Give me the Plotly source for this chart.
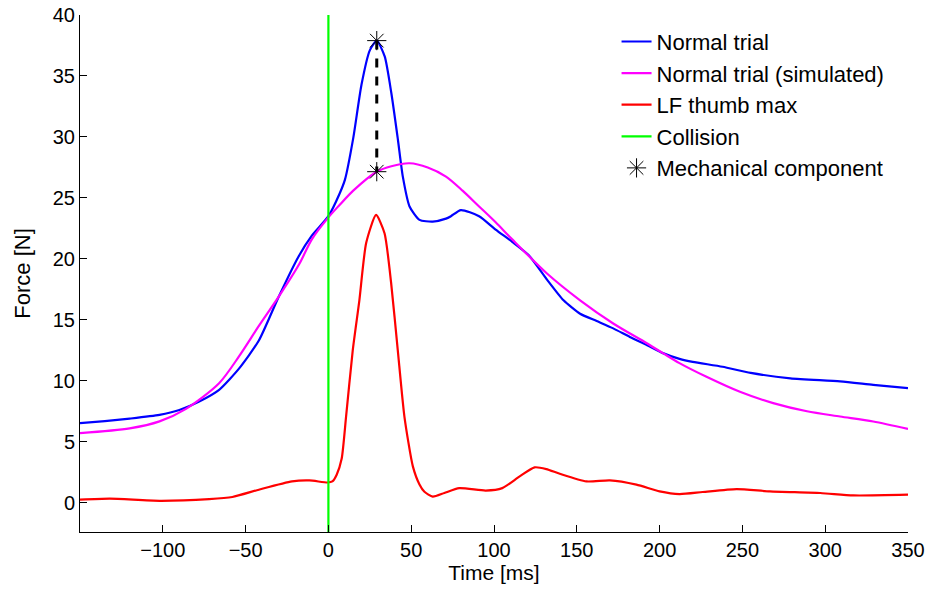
import plotly.graph_objects as go

# ---- data ----
blue_t = [-150, -135, -120, -102, -90, -78, -66, -54, -42, -30, -18, -10, 0, 6.6, 10, 15, 20, 25, 29.2,
          34, 38, 42, 45, 49, 55, 63, 71, 74, 80, 91, 101, 111, 121, 132, 142, 152, 162, 172, 182,
          192, 202, 212, 220, 238, 255, 279, 309, 329, 350]
blue_f = [6.53, 6.7, 6.9, 7.2, 7.6, 8.3, 9.26, 11.0, 13.3, 16.9, 20.2, 21.9, 23.5, 25.3, 26.5, 29.9, 34.3, 37.1, 37.9,
          36.6, 33.6, 29.75, 26.7, 24.3, 23.2, 23.06, 23.3, 23.5, 24.0, 23.5, 22.4, 21.4, 20.3, 18.3, 16.6, 15.5, 14.9, 14.3, 13.6,
          12.95, 12.27, 11.8, 11.55, 11.15, 10.65, 10.2, 9.95, 9.67, 9.4]

sim_t = [-150, -120, -102, -86, -66, -54, -42, -30, -17.5, -10, 0, 6.6, 15, 29.2, 38, 49, 60, 71, 81, 91, 101,
         111, 132, 152, 172, 192, 202, 212, 228, 248.5, 268.6, 289, 309, 329, 350]
sim_f = [5.71, 6.1, 6.67, 7.7, 9.8, 12.0, 14.5, 16.9, 19.6, 21.6, 23.4, 24.4, 25.6, 27.15, 27.6, 27.84, 27.5, 26.75, 25.6, 24.3, 23.0,
         21.6, 18.8, 16.6, 14.7, 13.1, 12.27, 11.45, 10.35, 9.1, 8.17, 7.5, 7.07, 6.66, 6.05]

lf_t = [-150, -132, -102, -72, -58, -42, -22, -11.5, -0.4, 2.4, 5, 8, 10.7, 14.7, 18.7, 22.8, 28.8, 33.9, 37.9,
        41.9, 45.9, 51, 55, 58, 63, 70, 79, 95, 105, 115.5, 124.5, 131.6, 139.7, 155.8, 170, 186, 200, 212,
        226, 246.5, 266.6, 297, 317, 350]
lf_f = [0.25, 0.33, 0.16, 0.3, 0.47, 1.07, 1.75, 1.83, 1.66, 1.75, 2.3, 3.6, 7.1, 12.5, 16.6, 21.3, 23.6, 22.1, 18.0,
        12.5, 7.07, 2.98, 1.5, 0.9, 0.5, 0.8, 1.2, 1.0, 1.2, 2.16, 2.9, 2.76, 2.38, 1.75, 1.83, 1.48, 0.93, 0.71,
        0.88, 1.12, 0.93, 0.8, 0.6, 0.66]

collision_t = [0, 0]
collision_f = [-2.4, 40]

mech_t = [29.2, 29.2]
mech_f = [37.9, 27.15]

x_ticks = [-100, -50, 0, 50, 100, 150, 200, 250, 300, 350]
y_ticks = [0, 5, 10, 15, 20, 25, 30, 35, 40]

FONT = "Liberation Sans, Arial, Helvetica, sans-serif"

fig = go.Figure()
fig.add_trace(go.Scatter(x=blue_t, y=blue_f, mode="lines", name="Normal trial",
                         line=dict(color="#0000ff", width=2.2, shape="spline", smoothing=0.6)))
fig.add_trace(go.Scatter(x=sim_t, y=sim_f, mode="lines", name="Normal trial (simulated)",
                         line=dict(color="#ff00ff", width=2.2, shape="spline", smoothing=0.8)))
fig.add_trace(go.Scatter(x=lf_t, y=lf_f, mode="lines", name="LF thumb max",
                         line=dict(color="#ff0000", width=2.2, shape="spline", smoothing=0.6)))
fig.add_trace(go.Scatter(x=collision_t, y=collision_f, mode="lines", name="Collision",
                         line=dict(color="#00ff00", width=2.2)))
fig.add_trace(go.Scatter(x=mech_t, y=mech_f, mode="lines", showlegend=False,
                         line=dict(color="black", width=3, dash="dash")))
fig.add_trace(go.Scatter(x=mech_t, y=mech_f, mode="markers", name="Mechanical component",
                         marker=dict(symbol="asterisk-open", size=16, color="black",
                                     line=dict(color="black", width=1))))

axis_common = dict(showgrid=False, zeroline=False, showline=True, linecolor="black", linewidth=1,
                   ticks="inside", ticklen=7, tickwidth=1, tickcolor="black", automargin=False,
                   tickfont=dict(family=FONT, size=20, color="black"), mirror=False)

fig.update_layout(
    width=930, height=590,
    margin=dict(l=80, r=22, t=15, b=58),
    paper_bgcolor="white", plot_bgcolor="white",
    font=dict(family=FONT, color="black"),
    xaxis=dict(range=[-150, 350], tickvals=x_ticks,
               title=dict(text="Time [ms]", font=dict(family=FONT, size=21), standoff=2),
               **axis_common),
    yaxis=dict(range=[-2.4, 40], tickvals=y_ticks,
               title=dict(text="Force [N]", font=dict(family=FONT, size=22), standoff=16),
               **axis_common),
    legend=dict(x=0.648, y=0.989, xanchor="left", yanchor="top", bgcolor="rgba(0,0,0,0)",
                font=dict(family=FONT, size=22, color="black"), itemwidth=30),
)

fig.write_html("out.html")
